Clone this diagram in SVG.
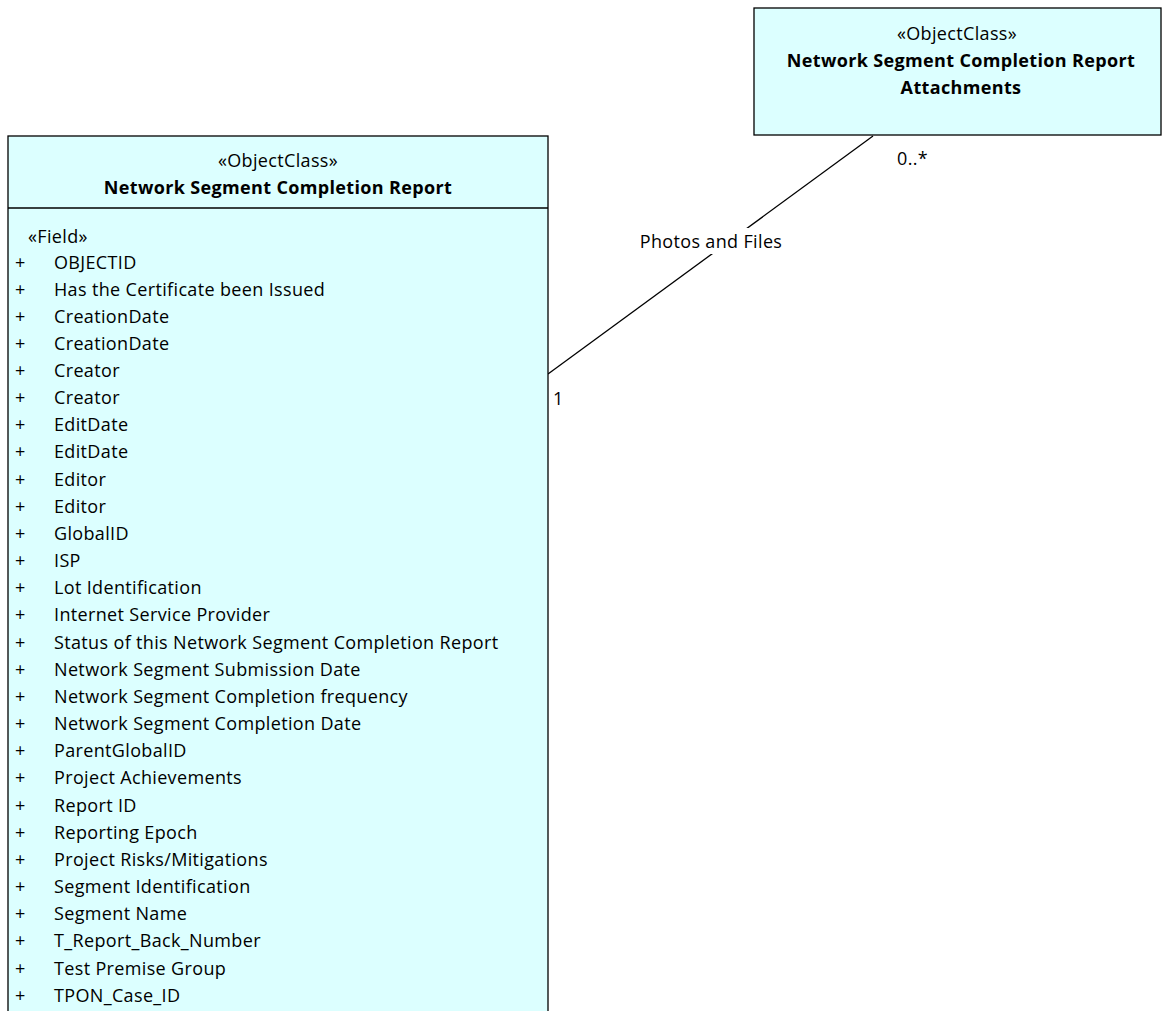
<svg xmlns="http://www.w3.org/2000/svg" width="1162" height="1011" viewBox="0 0 1162 1011">
<style>
text{font-family:"Open Sans","Liberation Sans",Arial,sans-serif;font-size:18px;letter-spacing:0.35px;fill:#000}
.b{font-weight:bold}
.c{text-anchor:middle}
.box{fill:#dcffff;stroke:#000;stroke-width:1.3}
.ln{stroke:#000;stroke-width:1.3;fill:none}
</style>
<rect width="1162" height="1011" fill="#fff"/>
<g id="connectors">
<line class="ln" x1="548" y1="374" x2="873" y2="136"/>
<rect x="636" y="228" width="150" height="26" fill="#fff"/>
<text class="c" x="711" y="248">Photos and Files</text>
<text x="553" y="405">1</text>
<text x="897" y="165">0..*</text>
</g>
<g id="attachments">
<rect class="box" x="754" y="8" width="407" height="127"/>
<text class="c" x="957" y="40">«ObjectClass»</text>
<text class="c b" x="961" y="67">Network Segment Completion Report</text>
<text class="c b" x="961" y="94">Attachments</text>
</g>
<g id="report">
<rect class="box" x="8" y="136" width="540" height="890"/>
<line class="ln" x1="8" y1="208" x2="548" y2="208"/>
<text class="c" x="278" y="167">«ObjectClass»</text>
<text class="c b" x="278" y="194">Network Segment Completion Report</text>
<text x="28" y="243">«Field»</text>
<g id="fields">
<text x="15" y="269">+</text><text x="54" y="269">OBJECTID</text>
<text x="15" y="296">+</text><text x="54" y="296">Has the Certificate been Issued</text>
<text x="15" y="323">+</text><text x="54" y="323">CreationDate</text>
<text x="15" y="350">+</text><text x="54" y="350">CreationDate</text>
<text x="15" y="377">+</text><text x="54" y="377">Creator</text>
<text x="15" y="404">+</text><text x="54" y="404">Creator</text>
<text x="15" y="431">+</text><text x="54" y="431">EditDate</text>
<text x="15" y="458">+</text><text x="54" y="458">EditDate</text>
<text x="15" y="486">+</text><text x="54" y="486">Editor</text>
<text x="15" y="513">+</text><text x="54" y="513">Editor</text>
<text x="15" y="540">+</text><text x="54" y="540">GlobalID</text>
<text x="15" y="567">+</text><text x="54" y="567">ISP</text>
<text x="15" y="594">+</text><text x="54" y="594">Lot Identification</text>
<text x="15" y="621">+</text><text x="54" y="621">Internet Service Provider</text>
<text x="15" y="649">+</text><text x="54" y="649">Status of this Network Segment Completion Report</text>
<text x="15" y="676">+</text><text x="54" y="676">Network Segment Submission Date</text>
<text x="15" y="703">+</text><text x="54" y="703">Network Segment Completion frequency</text>
<text x="15" y="730">+</text><text x="54" y="730">Network Segment Completion Date</text>
<text x="15" y="757">+</text><text x="54" y="757">ParentGlobalID</text>
<text x="15" y="784">+</text><text x="54" y="784">Project Achievements</text>
<text x="15" y="812">+</text><text x="54" y="812">Report ID</text>
<text x="15" y="839">+</text><text x="54" y="839">Reporting Epoch</text>
<text x="15" y="866">+</text><text x="54" y="866">Project Risks/Mitigations</text>
<text x="15" y="893">+</text><text x="54" y="893">Segment Identification</text>
<text x="15" y="920">+</text><text x="54" y="920">Segment Name</text>
<text x="15" y="947">+</text><text x="54" y="947">T_Report_Back_Number</text>
<text x="15" y="975">+</text><text x="54" y="975">Test Premise Group</text>
<text x="15" y="1002">+</text><text x="54" y="1002">TPON_Case_ID</text>
</g>
</g>
</svg>
